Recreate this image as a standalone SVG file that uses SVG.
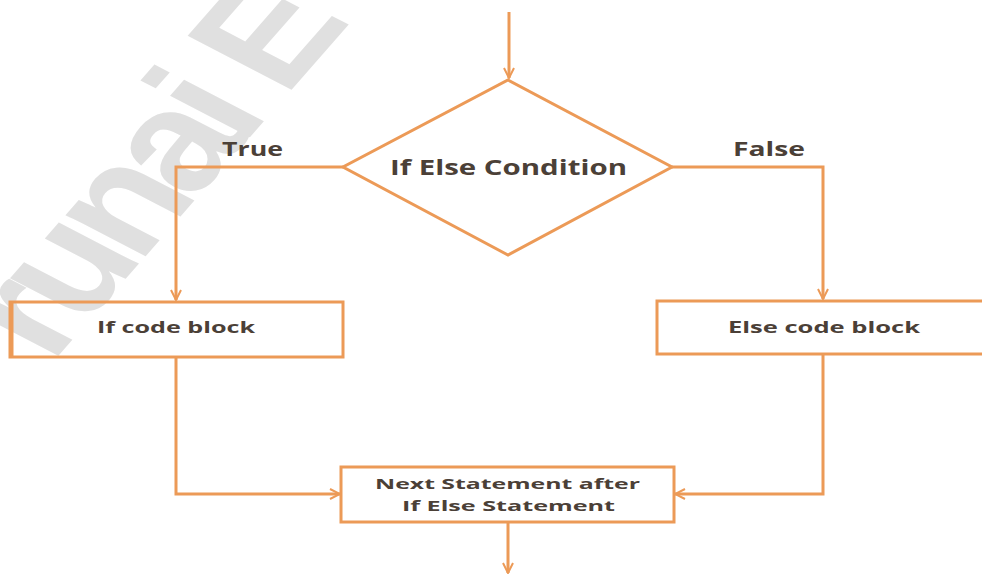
<svg xmlns="http://www.w3.org/2000/svg" width="982" height="576" viewBox="0 0 982 576">
  <defs>
    <style>
      .shape { fill: none; stroke: #EC9A57; stroke-width: 3; }
      .wire { fill: none; stroke: #EC9A57; stroke-width: 3; }
      .label { font-family: "Open Sans", "Liberation Sans", sans-serif; font-weight: 700; fill: #4b4037; }
      .mark { font-family: "Liberation Sans", Arial, sans-serif; font-weight: 700; fill: #e0e0e0; }
    </style>
    <marker id="arrow" viewBox="0 0 12 12" refX="11" refY="6" markerWidth="12" markerHeight="12" markerUnits="userSpaceOnUse" orient="auto">
      <path d="M1,1 L11,6 L1,11" fill="none" stroke="#EC9A57" stroke-width="2"/>
    </marker>
  </defs>

  <rect width="982" height="576" fill="#ffffff"/>

  <!-- background watermark -->
  <text class="mark" font-size="140" letter-spacing="-10" text-anchor="end" transform="translate(345.3,28.3) scale(1.3,1) rotate(-56)">runai E</text>

  <!-- connectors -->
  <g id="connectors">
    <path class="wire" d="M509,12 V78" marker-end="url(#arrow)"/>
    <path class="wire" d="M343,167 H176 V300" marker-end="url(#arrow)"/>
    <path class="wire" d="M672,167 H823 V299" marker-end="url(#arrow)"/>
    <path class="wire" d="M176,357 V494 H340" marker-end="url(#arrow)"/>
    <path class="wire" d="M823,354 V494 H675" marker-end="url(#arrow)"/>
    <path class="wire" d="M508,522 V573" marker-end="url(#arrow)"/>
    <text class="label" x="252.5" y="156" font-size="19" text-anchor="middle" textLength="61" lengthAdjust="spacingAndGlyphs">True</text>
    <text class="label" x="769" y="156" font-size="19" text-anchor="middle" textLength="72" lengthAdjust="spacingAndGlyphs">False</text>
  </g>

  <!-- decision -->
  <g id="condition">
    <polygon class="shape" points="508,80 672,167 508,255 343,167"/>
    <text class="label" x="508.5" y="174.5" font-size="21" text-anchor="middle" textLength="237" lengthAdjust="spacingAndGlyphs">If Else Condition</text>
  </g>

  <!-- true branch -->
  <g id="if-block">
    <rect class="shape" x="10" y="302" width="333" height="55"/>
    <line x1="11.5" y1="302" x2="11.5" y2="357" stroke="#EC9A57" stroke-width="4"/>
    <text class="label" x="176" y="333" font-size="16" text-anchor="middle" textLength="158" lengthAdjust="spacingAndGlyphs">If code block</text>
  </g>

  <!-- false branch -->
  <g id="else-block">
    <rect class="shape" x="657" y="301" width="335" height="53"/>
    <text class="label" x="824" y="333" font-size="16" text-anchor="middle" textLength="192" lengthAdjust="spacingAndGlyphs">Else code block</text>
  </g>

  <!-- join -->
  <g id="next-statement">
    <rect class="shape" x="341" y="467" width="333" height="55"/>
    <text class="label" x="507.5" y="488.5" font-size="15" text-anchor="middle" textLength="265" lengthAdjust="spacingAndGlyphs">Next Statement after</text>
    <text class="label" x="508.5" y="511" font-size="15" text-anchor="middle" textLength="213" lengthAdjust="spacingAndGlyphs">If Else Statement</text>
  </g>
</svg>
